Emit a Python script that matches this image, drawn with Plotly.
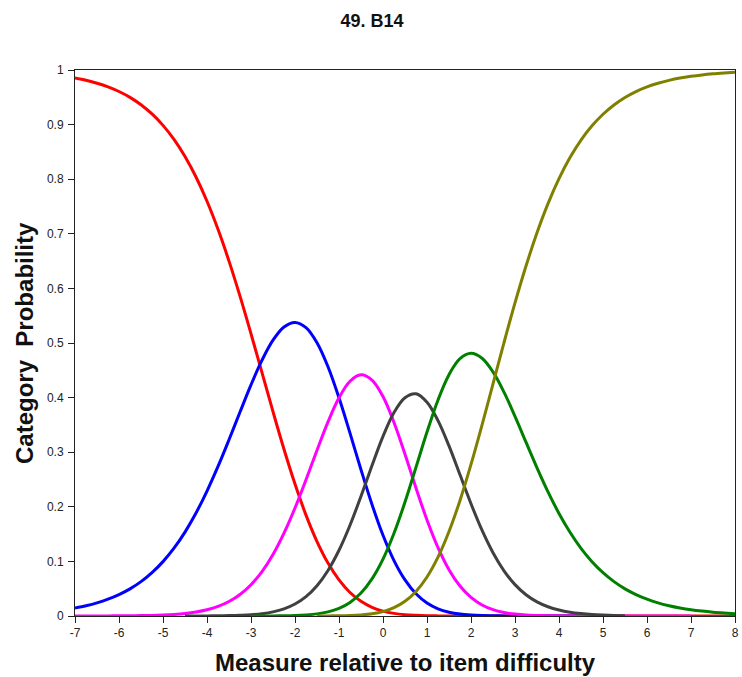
import plotly.graph_objects as go

# Measure grid (logits), quarter steps from -7 to 8
measure = [-7.0, -6.75, -6.5, -6.25, -6.0, -5.75, -5.5, -5.25, -5.0, -4.75, -4.5, -4.25,
           -4.0, -3.75, -3.5, -3.25, -3.0, -2.75, -2.5, -2.25, -2.0, -1.75, -1.5, -1.25,
           -1.0, -0.75, -0.5, -0.25, 0.0, 0.25, 0.5, 0.75, 1.0, 1.25, 1.5, 1.75,
           2.0, 2.25, 2.5, 2.75, 3.0, 3.25, 3.5, 3.75, 4.0, 4.25, 4.5, 4.75,
           5.0, 5.25, 5.5, 5.75, 6.0, 6.25, 6.5, 6.75, 7.0, 7.25, 7.5, 7.75, 8.0]

# Category probability curves (None = curve not drawn there)
cat_red = [0.9852, 0.9811, 0.9758, 0.9691, 0.9606, 0.9499, 0.9364, 0.9195, 0.8986, 0.8729,
           0.8416, 0.8040, 0.7596, 0.7082, 0.6500, 0.5858, 0.5170, 0.4457, 0.3743, 0.3054,
           0.2416, 0.1848, 0.1364, 0.0969, 0.0661, 0.0431, 0.0269, 0.0159, 0.0090, 0.0048,
           0.0024, 0.0012, 0.0005, 0.0002, 0.0001,
           0.0, 0.0, 0.0, 0.0, 0.0, 0.0, 0.0, 0.0, 0.0, 0.0, 0.0, 0.0, 0.0,
           0.0, 0.0, 0.0, 0.0, 0.0, 0.0, 0.0, 0.0, 0.0, 0.0, 0.0, 0.0, 0.0]
cat_blue = [0.0148, 0.0189, 0.0241, 0.0308, 0.0392, 0.0497, 0.0629, 0.0794, 0.0996, 0.1242,
            0.1537, 0.1886, 0.2288, 0.2739, 0.3228, 0.3735, 0.4233, 0.4685, 0.5052, 0.5294,
            0.5377, 0.5282, 0.5005, 0.4565, 0.3996, 0.3349, 0.2679, 0.2042, 0.1478, 0.1015,
            0.0661, 0.0407, 0.0238, 0.0132, 0.0070, 0.0035, 0.0017, 0.0008, 0.0004, 0.0002,
            0.0001, 0.0, 0.0, 0.0, 0.0, 0.0, 0.0, 0.0, 0.0,
            None, None, None, None, None, None, None, None, None, None, None, None]
cat_magenta = [0.0, 0.0001, 0.0001, 0.0002, 0.0003, 0.0004, 0.0007, 0.0011, 0.0018, 0.0029,
               0.0046, 0.0073, 0.0114, 0.0175, 0.0265, 0.0394, 0.0573, 0.0814, 0.1127, 0.1517,
               0.1978, 0.2495, 0.3036, 0.3555, 0.3996, 0.4300, 0.4417, 0.4322, 0.4019, 0.3544,
               0.2962, 0.2344, 0.1759, 0.1253, 0.0849, 0.0549, 0.0340, 0.0202, 0.0116, 0.0065,
               0.0035, 0.0018, 0.0010, 0.0005, 0.0002, 0.0001, 0.0001, 0.0, 0.0, 0.0,
               0.0, 0.0, 0.0, 0.0, 0.0, 0.0, 0.0, None, None, None, None]
cat_gray = [None, None, None, None, None, None, None, None, None, None,
            0.0, 0.0001, 0.0002, 0.0003, 0.0007, 0.0013, 0.0023, 0.0043, 0.0076, 0.0131,
            0.0219, 0.0355, 0.0555, 0.0834, 0.1204, 0.1663, 0.2194, 0.2756, 0.3290, 0.3726,
            0.3998, 0.4070, 0.3914, 0.3579, 0.3115, 0.2586, 0.2056, 0.1571, 0.1159, 0.0828,
            0.0575, 0.0390, 0.0259, 0.0169, 0.0109, 0.0069, 0.0044, 0.0027, 0.0017, 0.0010,
            0.0006, None, None, None, None, None, None, None, None, None, None]
cat_green = [None, None, None, None, None, None, None, None, None, None,
             None, None, None, None, None, None,
             0.0, 0.0001, 0.0002, 0.0004, 0.0009, 0.0020, 0.0039, 0.0076, 0.0140, 0.0249,
             0.0421, 0.0680, 0.1042, 0.1515, 0.2087, 0.2724, 0.3369, 0.3956, 0.4420, 0.4712,
             0.4811, 0.4721, 0.4470, 0.4099, 0.3656, 0.3183, 0.2714, 0.2274, 0.1879, 0.1534,
             0.1240, 0.0995, 0.0793, 0.0629, 0.0497, 0.0392, 0.0308, 0.0241, 0.0189, 0.0148,
             0.0115, 0.0090, 0.0070, 0.0055, 0.0043]
cat_olive = [None, None, None, None, None, None, None, None, None, None, None,
             None, None, None, None, None, None, None, None, None, None, None,
             0.0001, 0.0002, 0.0004, 0.0009, 0.0020, 0.0041, 0.0081, 0.0152, 0.0269, 0.0450,
             0.0715, 0.1078, 0.1547, 0.2117, 0.2776, 0.3497, 0.4252, 0.5007, 0.5734, 0.6409,
             0.7018, 0.7552, 0.8010, 0.8396, 0.8716, 0.8978, 0.9190, 0.9360, 0.9497, 0.9605,
             0.9690, 0.9757, 0.9810, 0.9852, 0.9884, 0.9910, 0.9930, 0.9945, 0.9957]

series = [
    ("Category 1", cat_red, "#FF0000"),
    ("Category 2", cat_blue, "#0000FF"),
    ("Category 3", cat_magenta, "#FF00FF"),
    ("Category 4", cat_gray, "#404040"),
    ("Category 5", cat_green, "#008000"),
    ("Category 6", cat_olive, "#808000"),
]

x_ticks = [-7, -6, -5, -4, -3, -2, -1, 0, 1, 2, 3, 4, 5, 6, 7, 8]
y_ticks = [0, 0.1, 0.2, 0.3, 0.4, 0.5, 0.6, 0.7, 0.8, 0.9, 1]
y_tick_labels = ["0", "0.1", "0.2", "0.3", "0.4", "0.5", "0.6", "0.7", "0.8", "0.9", "1"]

fig = go.Figure()
for name, vals, color in series:
    fig.add_trace(go.Scatter(
        x=measure, y=vals, mode="lines", name=name,
        line=dict(color=color, width=3, shape="spline", smoothing=1),
        connectgaps=False, hoverinfo="x+y+name",
    ))

font_family = "Liberation Sans, Arial, sans-serif"

W, H = 742, 677
fig.update_layout(
    width=W, height=H,
    margin=dict(l=75, r=3, t=70, b=61),
    paper_bgcolor="white", plot_bgcolor="white",
    showlegend=False,
    font=dict(family=font_family, color="#111"),
    title=dict(text="<b>49. B14</b>", x=372 / W, xref="container", xanchor="center",
               y=1 - 21 / H, yref="container", yanchor="middle",
               font=dict(size=18, family=font_family, color="#111")),
)

fig.update_xaxes(
    range=[-7, 8], tickmode="array", tickvals=x_ticks,
    ticktext=[str(v) for v in x_ticks],
    showgrid=False, zeroline=False,
    showline=True, linecolor="#222", linewidth=1, mirror=True,
    ticks="outside", ticklen=6, tickcolor="#222", tickwidth=1,
    tickfont=dict(size=12, family=font_family, color="#222"),
    ticklabeloverflow="allow",
)
fig.update_yaxes(
    range=[0, 1], tickmode="array", tickvals=y_ticks, ticktext=y_tick_labels,
    showgrid=False, zeroline=False,
    showline=True, linecolor="#222", linewidth=1, mirror=True,
    ticks="outside", ticklen=6, tickcolor="#222", tickwidth=1,
    tickfont=dict(size=12, family=font_family, color="#222"),
    ticklabelstandoff=2,
)

fig.add_annotation(
    text="<b>Measure relative to item difficulty</b>",
    xref="paper", yref="paper", x=0.5, y=0, xanchor="center", yanchor="middle",
    yshift=-46, showarrow=False,
    font=dict(size=24, family=font_family, color="#111"),
)
fig.add_annotation(
    text="<b>Category  Probability</b>",
    xref="paper", yref="paper", x=0, y=0.5, xanchor="center", yanchor="middle",
    xshift=-51, textangle=-90, showarrow=False,
    font=dict(size=24, family=font_family, color="#111"),
)

fig.write_html(
    "out.html",
    config={"displayModeBar": False},
    post_script="document.body.style.margin='0';document.body.style.overflow='hidden';",
)
